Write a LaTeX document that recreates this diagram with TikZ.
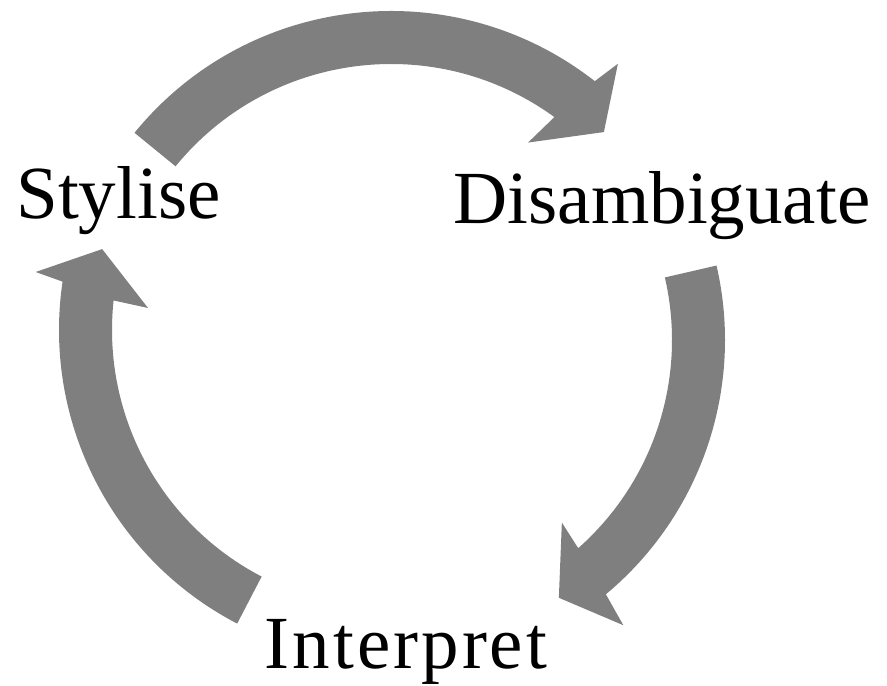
\documentclass[tikz,border=0pt]{standalone}
\usepackage{fontspec}
\setmainfont{Liberation Serif}
\definecolor{arrowgray}{RGB}{127,127,127}
\begin{document}
\begin{tikzpicture}[x=1pt,y=1pt,
  cyclearrow/.style={fill=arrowgray, draw=none},
  cyclelabel/.style={font=\fontsize{75}{80}\selectfont, inner sep=0pt, anchor=base}]
\useasboundingbox (0,0) rectangle (887,686);

% top arrow: Stylise -> Disambiguate
\fill[cyclearrow, shift={(391,344)}]
  (140.8:331) arc[start angle=140.8, end angle=52, radius=331]
  -- (50.8:359) -- (44.6:299) -- (55.5:242) -- (54:278)
  arc[start angle=54, end angle=140.8, radius=278] -- cycle;

% right arrow: Disambiguate -> Interpret
\fill[cyclearrow, shift={(394,346)}]
  (13:331) arc[start angle=13, end angle=-50.2, radius=331]
  -- (-51.2:366) -- (-57.4:306) -- (-47.4:248) -- (-48.5:278)
  arc[start angle=-48.5, end angle=13, radius=278] -- cycle;

% left arrow: Interpret -> Stylise
\fill[cyclearrow, shift={(390,356)}]
  (242.5:331) arc[start angle=242.5, end angle=171.6, radius=331]
  -- (170.7:359) -- (164.3:299) -- (174.8:243) -- (173.9:278)
  arc[start angle=173.9, end angle=242.5, radius=278] -- cycle;

% stage labels
\node[cyclelabel] (stylise) at (118.5,467) {Stylise};
\node[cyclelabel] (disamb) at (662,462) {Disambiguate};
\node[cyclelabel] (interp) at (406,17) {\addfontfeature{LetterSpace=4}Interpret};
\end{tikzpicture}
\end{document}
